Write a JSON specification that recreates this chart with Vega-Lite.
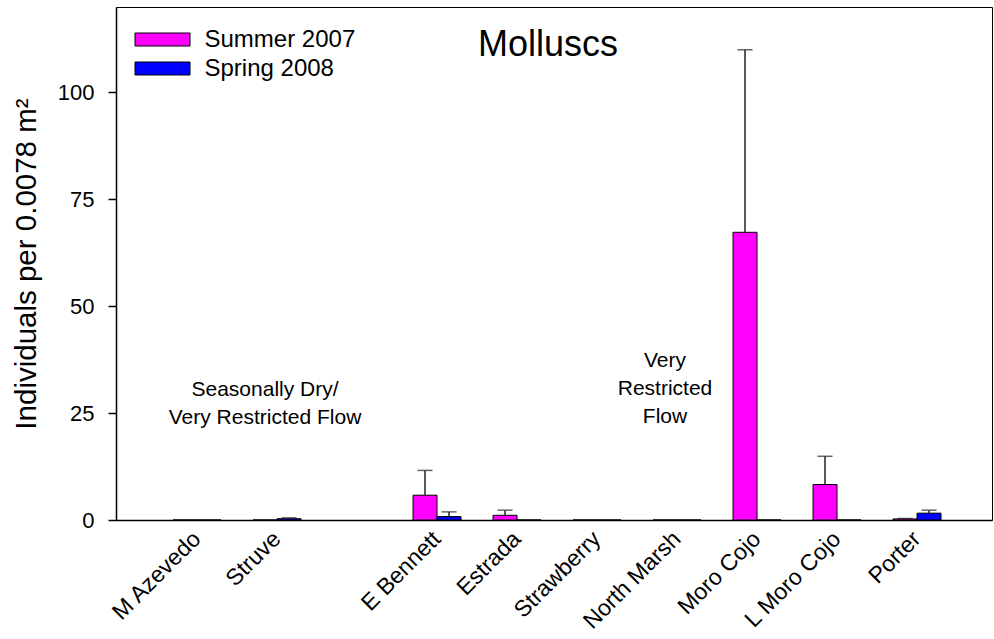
{
  "$schema": "https://vega.github.io/schema/vega-lite/v6.json",
  "width": 876,
  "height": 513,
  "autosize": {"type": "none"},
  "padding": {"left": 116, "top": 7, "right": 2, "bottom": 119},
  "config": {
    "font": "Liberation Sans",
    "view": {"stroke": "black", "strokeWidth": 1},
    "axis": {"labelColor": "black", "titleColor": "black", "domainColor": "black", "tickColor": "black", "grid": false}
  },
  "title": {"text": "Molluscs", "fontSize": 36, "fontWeight": "normal", "anchor": "middle", "offset": -85, "baseline": "alphabetic", "dx": -6, "color": "black"},
  "datasets": {
    "bars": [
      {"site": "M Azevedo", "season": "Summer 2007", "mean": 0, "upper": null},
      {"site": "M Azevedo", "season": "Spring 2008", "mean": 0, "upper": null},
      {"site": "Struve", "season": "Summer 2007", "mean": 0, "upper": null},
      {"site": "Struve", "season": "Spring 2008", "mean": 0.3, "upper": 0.5},
      {"site": "E Bennett", "season": "Summer 2007", "mean": 5.8, "upper": 11.6},
      {"site": "E Bennett", "season": "Spring 2008", "mean": 0.8, "upper": 1.9},
      {"site": "Estrada", "season": "Summer 2007", "mean": 1.1, "upper": 2.3},
      {"site": "Estrada", "season": "Spring 2008", "mean": 0, "upper": null},
      {"site": "Strawberry", "season": "Summer 2007", "mean": 0, "upper": null},
      {"site": "Strawberry", "season": "Spring 2008", "mean": 0, "upper": null},
      {"site": "North Marsh", "season": "Summer 2007", "mean": 0, "upper": null},
      {"site": "North Marsh", "season": "Spring 2008", "mean": 0, "upper": null},
      {"site": "Moro Cojo", "season": "Summer 2007", "mean": 67.3, "upper": 110},
      {"site": "Moro Cojo", "season": "Spring 2008", "mean": 0, "upper": null},
      {"site": "L Moro Cojo", "season": "Summer 2007", "mean": 8.3, "upper": 14.9},
      {"site": "L Moro Cojo", "season": "Spring 2008", "mean": 0, "upper": null},
      {"site": "Porter", "season": "Summer 2007", "mean": 0.25, "upper": 0.35},
      {"site": "Porter", "season": "Spring 2008", "mean": 1.6, "upper": 2.3}
    ],
    "notes": [
      {"site": "Struve", "y": 30.3, "label": "Seasonally Dry/\nVery Restricted Flow"},
      {"site": "North Marsh", "y": 37.3, "label": "Very\nRestricted\nFlow"}
    ]
  },
  "layer": [
    {
      "data": {"name": "bars"},
      "mark": {"type": "bar", "stroke": "black", "strokeWidth": 1},
      "encoding": {
        "x": {
          "field": "site", "type": "nominal",
          "sort": ["M Azevedo", "Struve", "gap", "E Bennett", "Estrada", "Strawberry", "North Marsh", "Moro Cojo", "L Moro Cojo", "Porter"],
          "scale": {"domain": ["M Azevedo", "Struve", "gap", "E Bennett", "Estrada", "Strawberry", "North Marsh", "Moro Cojo", "L Moro Cojo", "Porter"], "paddingInner": 0.4, "paddingOuter": 0.675, "align": 0.528},
          "axis": {"title": null, "ticks": false, "labelAngle": -45, "labelAlign": "right", "labelBaseline": "middle", "labelFontSize": 23, "labelPadding": 15, "domainWidth": 1.5, "labelExpr": "datum.value == 'gap' ? '' : datum.value"}
        },
        "xOffset": {"field": "season", "type": "nominal", "sort": ["Summer 2007", "Spring 2008"], "scale": {"domain": ["Summer 2007", "Spring 2008"], "paddingInner": 0, "paddingOuter": 0}},
        "y": {
          "field": "mean", "type": "quantitative",
          "scale": {"domain": [0, 120], "nice": false},
          "axis": {"values": [0, 25, 50, 75, 100], "tickSize": 8, "tickWidth": 1.5, "domainWidth": 1.5, "labelFontSize": 22, "labelPadding": 14, "title": "Individuals per 0.0078 m²", "titleFontSize": 29.5, "titleFontWeight": "normal", "titlePadding": 16}
        },
        "color": {
          "field": "season", "type": "nominal",
          "scale": {"domain": ["Summer 2007", "Spring 2008"], "range": ["#FF00FF", "#0000FF"]},
          "legend": {"title": null, "orient": "none", "legendX": 32, "legendY": 18, "symbolType": "M-2,-0.4727H2V0.4727H-2Z", "symbolSize": 756.25, "symbolStrokeColor": "black", "symbolStrokeWidth": 1, "symbolOpacity": 1, "labelFontSize": 24, "labelColor": "black", "labelOffset": 27.5, "rowPadding": 2}
        }
      }
    },
    {
      "data": {"name": "bars"},
      "transform": [{"filter": "datum.upper != null"}],
      "mark": {"type": "rule", "color": "#222222", "strokeWidth": 1.5},
      "encoding": {
        "x": {"field": "site", "type": "nominal"},
        "xOffset": {"field": "season", "type": "nominal"},
        "y": {"field": "mean", "type": "quantitative"},
        "y2": {"field": "upper"}
      }
    },
    {
      "data": {"name": "bars"},
      "transform": [{"filter": "datum.upper != null"}],
      "mark": {"type": "tick", "color": "#222222", "thickness": 1.5, "size": 15, "orient": "horizontal"},
      "encoding": {
        "x": {"field": "site", "type": "nominal"},
        "xOffset": {"field": "season", "type": "nominal"},
        "y": {"field": "upper", "type": "quantitative"}
      }
    },
    {
      "data": {"name": "notes"},
      "mark": {"type": "text", "fontSize": 21, "lineBreak": "\n", "baseline": "middle", "align": "center", "dx": -12, "lineHeight": 28, "color": "black"},
      "encoding": {
        "x": {"field": "site", "type": "nominal"},
        "y": {"field": "y", "type": "quantitative"},
        "text": {"field": "label"}
      }
    }
  ]
}
